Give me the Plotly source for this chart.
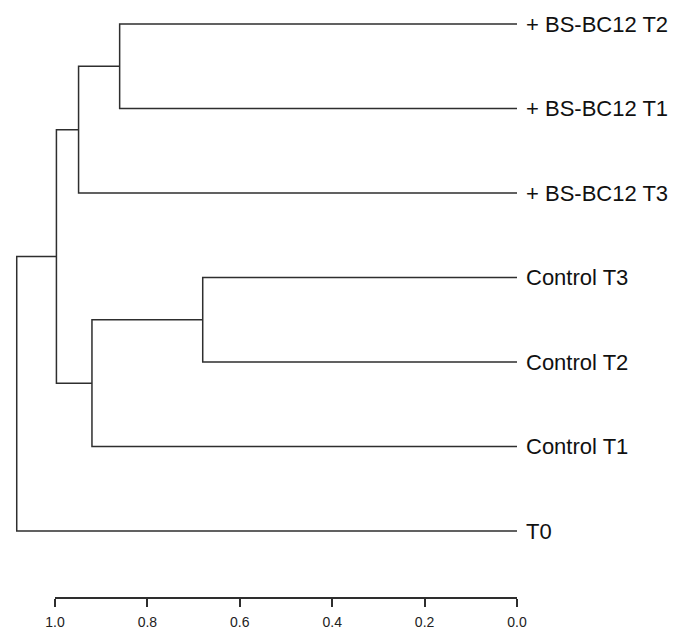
import plotly.graph_objects as go

# Leaf labels (top to bottom) and their row positions
leaf_labels = ["+ BS-BC12 T2", "+ BS-BC12 T1", "+ BS-BC12 T3",
               "Control T3", "Control T2", "Control T1", "T0"]
leaf_rows = [7, 6, 5, 4, 3, 2, 1]

# Merge heights (distance)
h_bs12 = 0.861      # BS T2 + BS T1
h_bs = 0.950        # (BS T2,T1) + BS T3
h_ct32 = 0.681      # Control T3 + Control T2
h_ct = 0.921        # (Control T3,T2) + Control T1
h_main = 0.998      # BS cluster + Control cluster
h_root = 1.084      # all + T0

tick_vals = [1.0, 0.8, 0.6, 0.4, 0.2, 0.0]

segs_x, segs_y = [], []
row = dict(zip(leaf_labels, leaf_rows))

def add(xa, ya, xb, yb, h):
    segs_x.extend([xa, h, h, xb, None])
    segs_y.extend([ya, ya, yb, yb, None])

y_bs12 = (row["+ BS-BC12 T2"] + row["+ BS-BC12 T1"]) / 2
add(0, row["+ BS-BC12 T2"], 0, row["+ BS-BC12 T1"], h_bs12)
y_bs = (y_bs12 + row["+ BS-BC12 T3"]) / 2
add(h_bs12, y_bs12, 0, row["+ BS-BC12 T3"], h_bs)
y_ct32 = (row["Control T3"] + row["Control T2"]) / 2
add(0, row["Control T3"], 0, row["Control T2"], h_ct32)
y_ct = (y_ct32 + row["Control T1"]) / 2
add(h_ct32, y_ct32, 0, row["Control T1"], h_ct)
y_main = (y_bs + y_ct) / 2
add(h_bs, y_bs, h_ct, y_ct, h_main)
add(h_main, y_main, 0, row["T0"], h_root)

line_color = "#2e2e2e"

fig = go.Figure()
fig.add_trace(go.Scatter(x=segs_x, y=segs_y, mode="lines",
                         line=dict(color=line_color, width=1.5),
                         hoverinfo="skip", showlegend=False,
                         xaxis="x", yaxis="y"))
# helper trace so the scale-axis subplot exists
fig.add_trace(go.Scatter(x=[tick_vals[0], tick_vals[-1]], y=[0, 0], mode="markers",
                         marker=dict(opacity=0), hoverinfo="skip", showlegend=False,
                         xaxis="x2", yaxis="y2"))

for lab, r in zip(leaf_labels, leaf_rows):
    fig.add_annotation(x=0, y=r, xref="x", yref="y", text=lab, showarrow=False,
                       xanchor="left", yanchor="middle", xshift=8, borderpad=0,
                       font=dict(family="Liberation Sans, Arial", size=22, color="#111111"))

# page has an 8px body margin; figure sized so it fills the window
W, H = 670, 623
x_zero, px_unit = 509.0, 461.5   # figure pixel of 0.0 and pixels per unit
y_row1, px_row = 523.0, 84.5     # figure pixel of bottom row and pixels per row
fig.update_layout(
    width=W, height=H, autosize=False,
    margin=dict(l=0, r=0, t=0, b=0, pad=0, autoexpand=False),
    paper_bgcolor="white", plot_bgcolor="white",
    showlegend=False,
    xaxis=dict(domain=[0, 1], range=[x_zero / px_unit, (x_zero - W) / px_unit], visible=False),
    yaxis=dict(domain=[0, 1], range=[1 - (H - y_row1) / px_row, 1 + y_row1 / px_row], visible=False),
    xaxis2=dict(domain=[47 / W, 509 / W], range=[1, 0], anchor="y2",
                tickvals=tick_vals, tickformat=".1f", ticks="outside", ticklen=8,
                tickwidth=1.5, tickcolor=line_color, showline=True, linecolor=line_color,
                linewidth=1.5, showgrid=False, zeroline=False, automargin=False,
                ticklabelstandoff=3,
                tickfont=dict(family="Liberation Sans, Arial", size=14, color="#222222")),
    yaxis2=dict(domain=[(H - 589) / H, (H - 582) / H], anchor="x2", visible=False,
                range=[0, 1]),
)

fig.write_html("out.html")
